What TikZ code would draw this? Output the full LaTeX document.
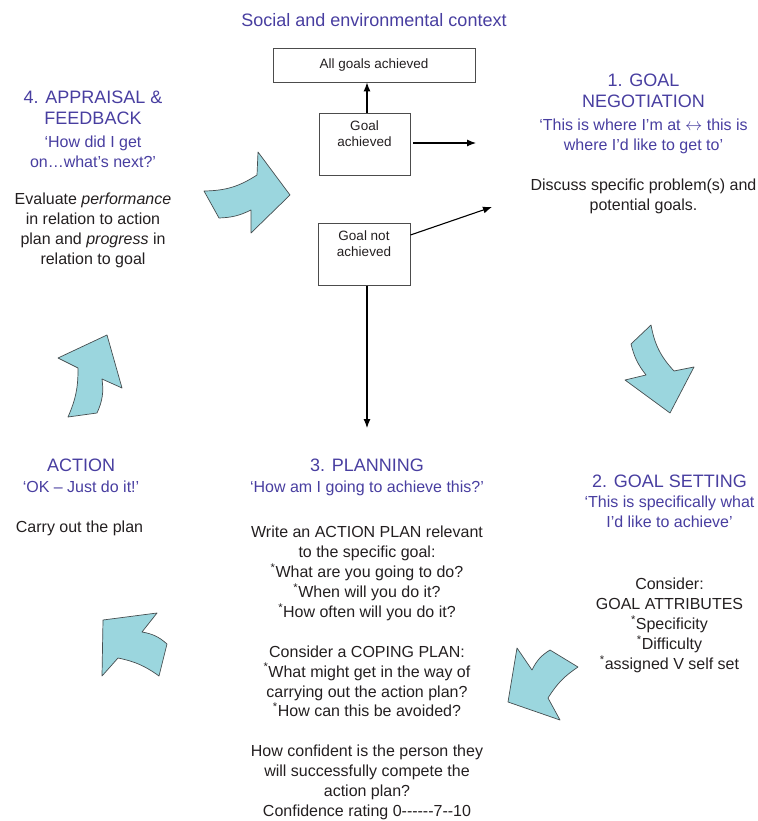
\documentclass[tikz,border=0pt]{standalone}
\usepackage{fontspec}
\setmainfont{Liberation Sans}
\usetikzlibrary{positioning}
\usetikzlibrary{calc}
\usetikzlibrary{arrows.meta}
\definecolor{stageblue}{RGB}{72,62,160}
\definecolor{bodytext}{RGB}{35,31,32}
\definecolor{cyclefill}{RGB}{155,214,222}
\definecolor{cycleedge}{RGB}{70,78,80}
\tikzset{
    % Solid arrow heads for the outcome lines
    >={Latex[length=9pt,width=7pt]},
%
    % The big blue heading of each stage
    stage title/.style={text=stageblue, align=center, inner sep=0, anchor=north,
        font=\fontsize{18}{21.5}\selectfont},
%
    % The quoted question under each heading
    stage quote/.style={text=stageblue, align=center, inner sep=0, anchor=north,
        font=\fontsize{16}{20}\selectfont},
%
    % Plain explanatory text
    stage text/.style={text=bodytext, align=center, inner sep=0, anchor=north,
        font=\fontsize{16}{19.9}\selectfont},
%
    % Outcome boxes in the middle
    outcome box/.style={draw=black!70, line width=0.9pt, align=center,
        text=bodytext, font=\fontsize{13.5}{16}\selectfont},
    outcome line/.style={->, line width=1.1pt},
%
    % The fat curved arrows going round the cycle
    cycle arrow/.style={fill=cyclefill, draw=cycleedge, line width=0.7pt,
        line join=round}}

\begin{document}
\begin{tikzpicture}[x=1pt, y=-1pt]

\useasboundingbox (0,0) rectangle (757,821);

\node [stage title, anchor=center] (context) at (374,20)
    {Social and environmental context};

% Outcome of the appraisal

\node [outcome box, minimum width=202pt, minimum height=34pt] (all goals)
    at (374,65) {All goals achieved};
\node [outcome box, anchor=north, minimum width=91pt, inner ysep=7pt] (achieved)
    at (364.5,113) {Goal\\achieved\rule[-22pt]{0pt}{0pt}};
\node [outcome box, anchor=north, minimum width=92pt, inner ysep=7pt] (not achieved)
    at (364,223) {Goal not\\achieved\rule[-22pt]{0pt}{0pt}};

\coordinate (negotiation in) at (476,143);
\coordinate (negotiation in2) at (492,207);
\coordinate (planning in) at (367,428);

\draw [outcome line] (achieved.north -| planning in) -- (all goals.south -| planning in);
\draw [outcome line, shorten <=3pt] (achieved.east |- negotiation in) -- (negotiation in);
\draw [outcome line] ([yshift=-12pt]not achieved.north east) -- (negotiation in2);
\draw [outcome line] (not achieved.south -| planning in) -- (planning in);

% 4. Appraisal and feedback

\node [stage title] (appraisal) at (93,90.3) {4. APPRAISAL \&\\FEEDBACK};
\node [stage quote] (appraisal quote) at (93,136) {‘How did I get\\on…what’s next?’};
\node [stage text] (appraisal text) at (93,193)
    {Evaluate \textit{performance}\\in relation to action\\plan and \textit{progress} in\\relation to goal};

% 1. Goal negotiation

\node [stage title] (negotiation) at (643.5,73.3) {1. GOAL\\NEGOTIATION};
\node [stage quote] (negotiation quote) at (643.5,119)
    {‘This is where I’m at $\leftrightarrow$ this is\\where I’d like to get to’};
\node [stage text] (negotiation text) at (643.5,179)
    {Discuss specific problem(s) and\\potential goals.};

% 2. Goal setting

\node [stage title] (setting) at (669.5,474.3) {2. GOAL SETTING};
\node [stage quote] (setting quote) at (669.5,496)
    {‘This is specifically what\\I’d like to achieve’};
\node [stage text] (setting text) at (669.5,578)
    {Consider:\\GOAL ATTRIBUTES\\\textsuperscript{*}Specificity\\\textsuperscript{*}Difficulty\\\textsuperscript{*}assigned V self set};

% 3. Planning

\node [stage title] (planning) at (367,458.3) {3. PLANNING};
\node [stage quote] (planning quote) at (367,481) {‘How am I going to achieve this?’};
\node [stage text] (planning text) at (367,526)
    {Write an ACTION PLAN relevant\\to the specific goal:\\\textsuperscript{*}What are you going to do?\\
     \textsuperscript{*}When will you do it?\\\textsuperscript{*}How often will you do it?\\[19.9pt]
     Consider a COPING PLAN:\\\textsuperscript{*}What might get in the way of\\carrying out the action plan?\\
     \textsuperscript{*}How can this be avoided?\\[19.9pt]
     How confident is the person they\\will successfully compete the\\action plan?\\
     Confidence rating 0{-}{-}{-}{-}{-}{-}7{-}{-}10};

% Action

\node [stage title] (action) at (81,458.3) {ACTION};
\node [stage quote] (action quote) at (81,481) {‘OK – Just do it!’};
\node [stage text] (action text) at (79.5,521) {Carry out the plan};

% Arrows round the cycle

\draw [cycle arrow] (290,195) -- (258,152) -- (257,175) to[bend left=16] (204,191)
    -- (219,218) to[bend right=12] (251,210) -- (251,233) -- cycle;
\draw [cycle arrow] (670,413) -- (694,367) -- (674,371) to[bend left=16] (651,325)
    -- (631,344) to[bend right=12] (646,375) -- (625,380) -- cycle;
\draw [cycle arrow] (508,702) -- (517,648) -- (532,670) to[bend left=16] (550,650)
    -- (578,667) to[bend right=12] (548,698) -- (560,720) -- cycle;
\draw [cycle arrow] (103,620) -- (157,613) -- (142,632) to[bend left=16] (167,644)
    -- (159,676) to[bend right=12] (118,658) -- (102,676) -- cycle;
\draw [cycle arrow] (107,335) -- (122,388) -- (102,379) to[bend left=16] (97,413)
    -- (68,417) to[bend right=12] (78,368) -- (58,358) -- cycle;

\end{tikzpicture}
\end{document}
